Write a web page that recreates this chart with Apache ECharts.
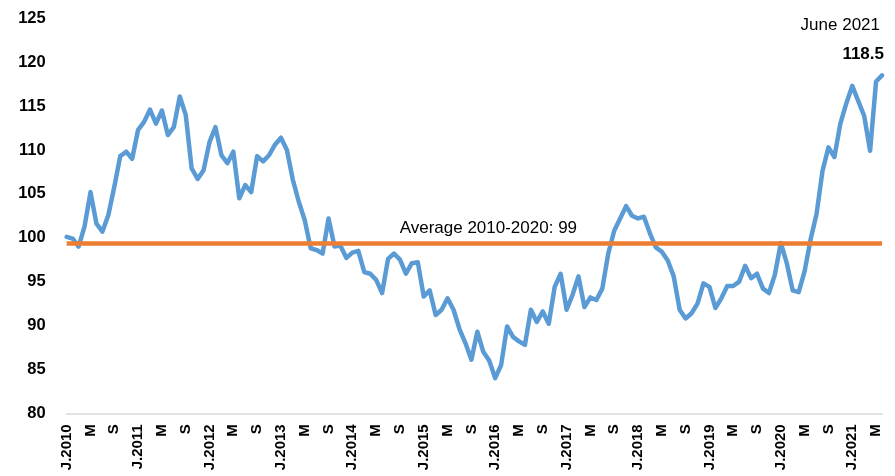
<!DOCTYPE html>
<html>
<head>
<meta charset="utf-8">
<script src="https://cdn.jsdelivr.net/npm/echarts@6/dist/echarts.min.js"></script>
<style>
html,body{margin:0;padding:0;background:#fff;}
#chart{width:895px;height:476px;}
</style>
</head>
<body>
<div id="chart"></div>
<script>
// Monthly index values, Jan 2010 - Jun 2021
const values2010 = [100.1, 99.9, 99.0, 101.3, 105.2, 101.6, 100.7, 102.6, 105.8, 109.3, 109.8, 109.0];
const values2011 = [112.3, 113.2, 114.6, 113.0, 114.5, 111.7, 112.6, 116.1, 114.0, 107.9, 106.7, 107.7];
const values2012 = [110.9, 112.6, 109.4, 108.5, 109.8, 104.5, 106.0, 105.2, 109.3, 108.7, 109.4, 110.6];
const values2013 = [111.4, 110.0, 106.6, 104.1, 102.0, 98.8, 98.6, 98.2, 102.2, 99.0, 99.1, 97.7];
const values2014 = [98.3, 98.5, 96.1, 95.9, 95.2, 93.7, 97.6, 98.2, 97.5, 95.9, 97.1, 97.2];
const values2015 = [93.3, 94.0, 91.2, 91.8, 93.1, 91.8, 89.6, 88.0, 86.1, 89.3, 87.0, 86.0];
const values2016 = [84.0, 85.5, 89.9, 88.7, 88.2, 87.8, 91.8, 90.4, 91.6, 90.2, 94.4, 95.9];
const values2017 = [91.8, 93.5, 95.6, 92.1, 93.2, 92.9, 94.2, 98.2, 100.8, 102.2, 103.6, 102.5];
const values2018 = [102.2, 102.4, 100.5, 98.9, 98.4, 97.4, 95.6, 91.8, 90.8, 91.4, 92.5, 94.8];
const values2019 = [94.4, 92.0, 93.1, 94.5, 94.5, 95.0, 96.8, 95.4, 95.9, 94.2, 93.7, 95.8];
const values2020 = [99.4, 97.1, 94.0, 93.8, 96.2, 99.8, 102.7, 107.6, 110.3, 109.2, 113.0, 115.3];
const values2021 = [117.3, 115.6, 113.9, 109.9, 117.8, 118.5];

const years = [2010, 2011, 2012, 2013, 2014, 2015, 2016, 2017, 2018, 2019, 2020, 2021];
const tickLetters = {0: 'J', 4: 'M', 8: 'S'};
const averageValue = 99.4;
const averageLabel = 'Average 2010-2020: 99';
const lastLabel = 'June 2021';
const lastValueLabel = '118.5';

const yValues = [].concat(values2010, values2011, values2012, values2013, values2014, values2015,
  values2016, values2017, values2018, values2019, values2020, values2021);

const categories = [];
years.forEach(function (y) {
  for (let m = 0; m < 12; m++) {
    if (categories.length < yValues.length) categories.push({year: y, month: m});
  }
});
const catNames = categories.map(function (c) { return c.year + '-' + (c.month + 1); });

function labelFor(idx) {
  const c = categories[idx];
  if (c.month === 0) return 'J.' + c.year;
  return tickLetters[c.month] || '';
}

const lastIdx = yValues.length - 1;
const FONT = '"Liberation Sans", Arial, sans-serif';

const chart = echarts.init(document.getElementById('chart'));
chart.setOption({
  animation: false,
  backgroundColor: '#ffffff',
  textStyle: {fontFamily: FONT},
  grid: {left: 66.7, right: 13, top: 18.3, bottom: 62.7, containLabel: false},
  xAxis: {
    type: 'category',
    data: catNames,
    boundaryGap: false,
    axisLine: {show: true, lineStyle: {color: '#d9d9d9', width: 1.5}},
    axisTick: {show: false},
    splitLine: {show: false},
    axisLabel: {
      interval: function (idx) { return idx % 4 === 0; },
      rotate: 90,
      margin: 11,
      color: '#000',
      fontWeight: 'bold',
      fontSize: 15,
      fontFamily: FONT,
      formatter: function (v, idx) { return labelFor(idx); }
    }
  },
  yAxis: {
    type: 'value',
    min: 80,
    max: 125,
    interval: 5,
    axisLine: {show: false},
    axisTick: {show: false},
    splitLine: {show: false},
    axisLabel: {
      margin: 21,
      color: '#000',
      fontWeight: 'bold',
      fontSize: 16.5,
      fontFamily: FONT
    }
  },
  series: [{
    type: 'line',
    data: yValues,
    symbol: 'none',
    smooth: false,
    lineStyle: {color: '#5B9BD5', width: 4.5, join: 'round', cap: 'round'},
    z: 2,
    markLine: {
      silent: true,
      symbol: 'none',
      z: 3,
      lineStyle: {color: '#ED7D31', width: 4.5, type: 'solid'},
      label: {
        show: true,
        position: 'insideMiddleTop',
        formatter: averageLabel,
        color: '#000',
        fontSize: 17,
        fontFamily: FONT,
        distance: 6,
        padding: [0, 0, 0, 28]
      },
      emphasis: {disabled: true},
      data: [{yAxis: averageValue}]
    },
    markPoint: {
      silent: true,
      symbol: 'circle',
      symbolSize: 0,
      data: [
        {coord: [lastIdx, yValues[lastIdx]], label: {show: true, formatter: lastValueLabel, position: 'inside', align: 'right', verticalAlign: 'middle', offset: [2, -21], color: '#000', fontWeight: 'bold', fontSize: 17, fontFamily: FONT}},
        {coord: [lastIdx, yValues[lastIdx]], label: {show: true, formatter: lastLabel, position: 'inside', align: 'right', verticalAlign: 'middle', offset: [-2, -50], color: '#000', fontSize: 17, fontFamily: FONT}}
      ]
    }
  }]
});
</script>
</body>
</html>
